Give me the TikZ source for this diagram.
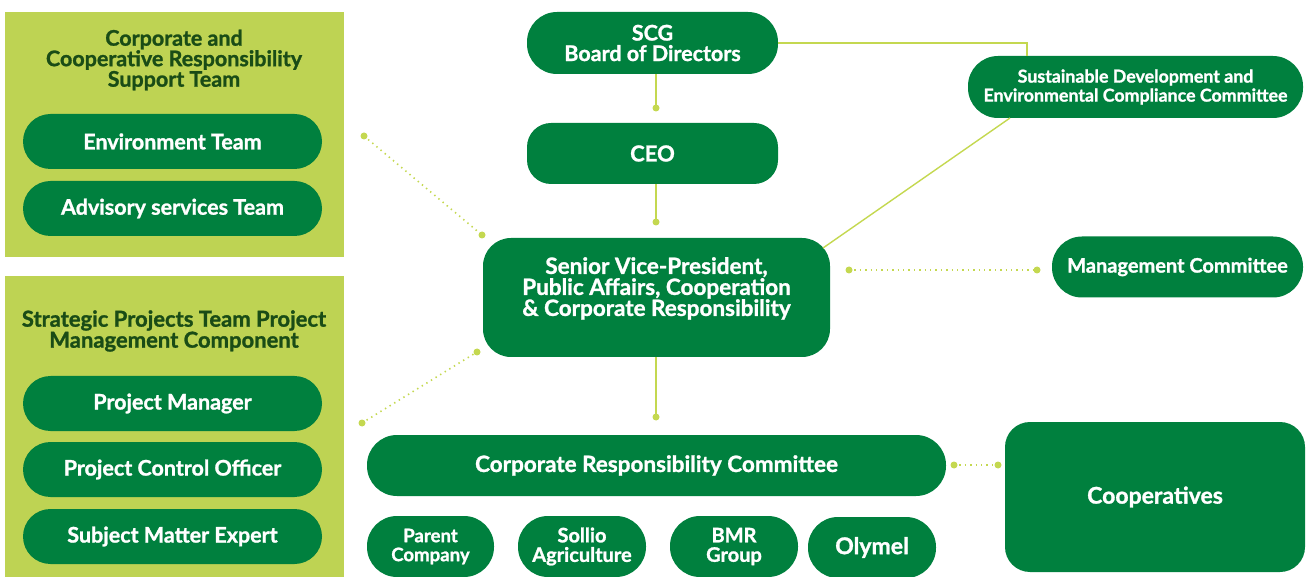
\documentclass[tikz,border=0pt]{standalone}
\usepackage{fontspec}
\setmainfont{Lato}[BoldFeatures={FakeBold=1.2}]
\definecolor{dkgreen}{RGB}{0,128,62}
\definecolor{panelgreen}{RGB}{190,211,83}
\definecolor{linegreen}{RGB}{196,216,80}
\definecolor{titlegreen}{RGB}{26,76,22}
\newcommand{\fsz}[2]{\bfseries\fontsize{#1}{#2}\selectfont\lineskiplimit=-100pt\lineskip=0pt}
\tikzset{
  box/.style={fill=dkgreen, text=white, align=center, inner sep=0pt,
    font=\fsz{21.5}{20.5}},
  pill/.style={box, rounded corners=#1},
  conn/.style={draw=linegreen, line width=1.4pt},
  dotconn/.style={draw=linegreen, line width=1.6pt, dash pattern=on 1.4pt off 4pt},
  enddot/.style={fill=linegreen, draw=none, circle, minimum size=7pt, inner sep=0pt},
  ptitle/.style={text=titlegreen, align=center, font=\fsz{21.5}{20.5}, inner sep=0pt},
}
\begin{document}
\begin{tikzpicture}[x=1pt,y=-1pt]
\useasboundingbox (0,0) rectangle (1307,577);
% panels
\fill[panelgreen] (5,12) rectangle (344,257);
\fill[panelgreen] (5,276) rectangle (344,577);
\node[ptitle] (t1) at (174,60) {Corporate and\\Cooperative Responsibility\\Support Team};
\node[ptitle, font=\fsz{22}{21}] (t2) at (174,331) {Strategic Projects Team Project\\Management Component};
% left pills
\node[pill=27.5pt, minimum width=299pt, minimum height=55pt] (env) at (172.5,141.5) {Environment Team};
\node[pill=27.5pt, minimum width=299pt, minimum height=55pt] (adv) at (172.5,208.5) {Advisory services Team};
\node[pill=27.5pt, minimum width=299pt, minimum height=55pt] (pm) at (172.5,403.5) {Project Manager};
\node[pill=27.5pt, minimum width=299pt, minimum height=55pt] (pco) at (172.5,469.5) {Project Control Officer};
\node[pill=27.5pt, minimum width=299pt, minimum height=55pt] (sme) at (172.5,536.5) {Subject Matter Expert};
% central
\node[pill=30pt, minimum width=251pt, minimum height=62pt, font=\fsz{21.5}{20.5}] (board) at (652.5,43) {SCG\\Board of Directors};
\node[pill=24pt, minimum width=251pt, minimum height=61pt, font=\fsz{22}{19}] (ceo) at (652.5,153.5) {CEO};
\node[pill=28pt, minimum width=347pt, minimum height=119pt] (svp) at (656.5,297.5) {};
\node[box, anchor=north, font=\fsz{22.5}{21}] (svpt) at (656.5,257) {Senior Vice-President,\\Public Affairs, Cooperation\\\&\ Corporate Responsibility};
\node[pill=30pt, minimum width=335pt, minimum height=62pt, font=\fsz{17.8}{19}] (sus) at (1135.5,87) {Sustainable Development and\\Environmental Compliance Committee};
\node[pill=30pt, minimum width=251pt, minimum height=61pt, font=\fsz{20}{19}] (mgmt) at (1177.5,267) {Management Committee};
\node[pill=30pt, minimum width=579pt, minimum height=61pt, font=\fsz{22.5}{20}] (crc) at (656.5,465.5) {Corporate Responsibility Committee};
\node[pill=25pt, minimum width=300pt, minimum height=150pt, font=\fsz{23}{22}] (coop) at (1155,497) {Cooperatives};
\node[pill=30pt, minimum width=127pt, minimum height=61pt, font=\fsz{18.6}{19}] (parent) at (430.5,546.5) {Parent\\Company};
\node[pill=30pt, minimum width=128pt, minimum height=61pt, font=\fsz{20}{19.5}] (sollio) at (582,546.5) {Sollio\\Agriculture};
\node[pill=30pt, minimum width=128pt, minimum height=61pt, font=\fsz{20}{19.5}] (bmr) at (734,546.5) {BMR\\Group};
\node[pill=30pt, minimum width=128pt, minimum height=61pt, font=\fsz{23}{22}] (olymel) at (872,547.5) {Olymel};
% solid connectors
\coordinate (d1) at (656,108);
\coordinate (d2) at (656,222);
\coordinate (d3) at (656,417);
\draw[conn] (board.south -| d1) -- (d1);
\draw[conn] (ceo.south -| d2) -- (d2);
\draw[conn] (svp.south -| d3) -- (d3);
\node[enddot] at (d1) {};
\node[enddot] at (d2) {};
\node[enddot] at (d3) {};
\coordinate (bx) at (1027,43);
\draw[conn] (board.east) -- (bx) -- (bx |- sus.north);
\coordinate (s1) at (1010,118);
\coordinate (s2) at (823,248);
\draw[conn] (s1) -- (s2);
% dotted connectors
\coordinate (m1) at (849,270);
\coordinate (m2) at (1037,270);
\draw[dotconn] (m1) -- (m2);
\node[enddot] at (m1) {};
\node[enddot] at (m2) {};
\coordinate (c1) at (954,465);
\coordinate (c2) at (998,465);
\draw[dotconn] (c1) -- (c2);
\node[enddot] at (c1) {};
\node[enddot] at (c2) {};
\coordinate (l1) at (364,136);
\coordinate (l2) at (482,235);
\draw[dotconn] (l1) -- (l2);
\node[enddot] at (l1) {};
\node[enddot] at (l2) {};
\coordinate (l3) at (362,423);
\coordinate (l4) at (477,352);
\draw[dotconn] (l3) -- (l4);
\node[enddot] at (l3) {};
\node[enddot] at (l4) {};
\end{tikzpicture}
\end{document}
